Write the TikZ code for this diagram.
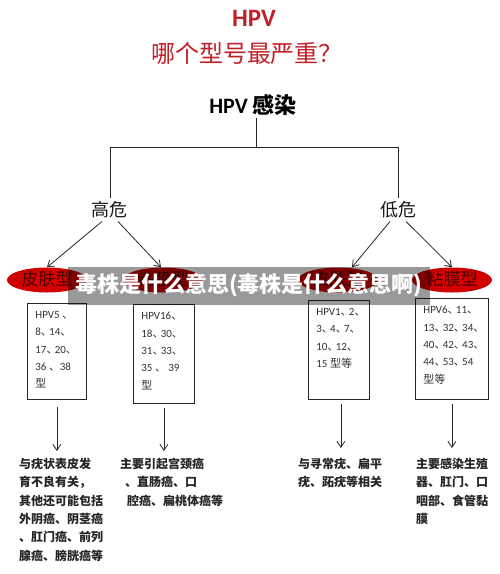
\documentclass[tikz,border=0pt]{standalone}
\usepackage{fontspec}
\setmainfont{Carlito}
\newfontfamily\cjk{Noto Sans CJK SC}
\usetikzlibrary{shapes.geometric,arrows.meta}
\definecolor{titlered}{RGB}{192,32,40}
\definecolor{ellred}{RGB}{228,0,0}
\definecolor{ellredout}{RGB}{205,0,0}
\definecolor{elltext}{RGB}{70,0,0}
\newcommand\dunhao{\makebox[0.75em][l]{\cjk 、}}
\tikzset{
  lnk/.style={line width=0.8pt, draw=black!85},
  arr/.style={lnk, -{Straight Barb[length=6pt,width=8pt]}},
  ell/.style={ellipse, shading=radial, inner color=ellred, outer color=ellredout,
     minimum width=80pt, minimum height=25pt, inner sep=0pt, text height=11pt, text depth=1pt,
     text=elltext, font=\fontsize{17}{17}\selectfont\cjk},
  typebox/.style={draw=black!85, line width=0.8pt, anchor=north west, inner xsep=8pt, inner ysep=8pt,
     font=\fontsize{11}{17.3}\selectfont, text=black!80},
  desc/.style={anchor=north west, inner sep=0pt, align=left,
     font=\fontsize{12}{18.3}\selectfont\cjk\bfseries, text=black!85},
  risk/.style={font=\fontsize{18}{18}\selectfont\cjk, text=black!90, inner sep=3pt}
}
\begin{document}
\begin{tikzpicture}[x=1pt,y=-1pt]
\useasboundingbox (0,0) rectangle (500,574);
\fill[white] (0,0) rectangle (500,574);

% titles
\node[text=titlered, font=\fontsize{25}{25}\selectfont\bfseries] (t0) at (254,18) {HPV};
\node[text=titlered, font=\fontsize{24}{24}\selectfont\cjk] (t00) at (247,53) {哪个型号最严重？};

\node[font=\fontsize{22}{22}\selectfont\bfseries, inner sep=2pt] (root) at (253,105) {HPV {\cjk 感染}};

\coordinate (j) at (256,147);
\node[risk] (hi) at (110,210) {高危};
\node[risk] (lo) at (398,210) {低危};

\draw[lnk] (root.south -| j) -- (j);
\draw[lnk] (hi.north) -- (hi.north |- j) -- (lo.north |- j) -- (lo.north);

% ellipses
\node[ell] (e1) at (47,280) {皮肤型};
\node[ell] (e2) at (163,280) {粘膜型};
\node[ell] (e3) at (338,280) {皮肤型};
\node[ell] (e4) at (452,280) {粘膜型};

\draw[arr] (hi.235) -- (e1.north);
\draw[arr] (hi.305) -- ([xshift=-2pt]e2.north);
\draw[arr] (lo.235) -- ([xshift=14pt]e3.north);
\draw[arr] (lo.305) -- (e4.north);

% type boxes
\node[typebox] (b1) at (27,303) {\parbox[c][80pt][t]{43pt}{HPV5 \dunhao\\8\dunhao 14\dunhao\\17\dunhao 20\dunhao\\36 \dunhao{} 38\\{\cjk 型}}};
\node[typebox] (b2) at (133,304) {\parbox[c][83pt][t]{45pt}{HPV16\dunhao\\18\dunhao 30\dunhao\\31\dunhao 33\dunhao\\35 \dunhao{} \ 39\\{\cjk 型}}};
\node[typebox] (b3) at (308,300) {\parbox[c][83pt][t]{45pt}{HPV1\dunhao 2\dunhao\\3\dunhao 4\dunhao 7\dunhao\\10\dunhao 12\dunhao\\15 {\cjk 型等}}};
\node[typebox] (b4) at (415,298) {\parbox[c][85pt][t]{57pt}{HPV6\dunhao 11\dunhao\\13\dunhao 32\dunhao 34\dunhao\\40\dunhao 42\dunhao 43\dunhao\\44\dunhao 53\dunhao 54\\{\cjk 型等}}};

% descriptions
\node[desc] (d1) at (19,458) {与疣状表皮发\\育不良有关，\\其他还可能包括\\外阴癌、阴茎癌\\、肛门癌、前列\\腺癌、膀胱癌等};
\node[desc] (d2) at (120,458) {主要引起宫颈癌\\\hspace*{5pt}、直肠癌、口\\\hspace*{7pt}腔癌、扁桃体癌等};
\node[desc] (d3) at (298,458) {与寻常疣、扁平\\疣、跖疣等相关};
\node[desc] (d4) at (416,458) {主要感染生殖\\器、肛门、口\\咽部、食管黏\\膜};

\draw[arr, shorten <=7pt, shorten >=7pt] (b1.south) -- (b1.south |- d1.north);
\draw[arr, shorten <=4pt, shorten >=7pt] (b2.south) -- (b2.south |- d2.north);
\draw[arr, shorten <=4pt, shorten >=10pt] ([xshift=2pt]b3.south) -- ([xshift=2pt]b3.south |- d3.north);
\draw[arr, shorten <=4pt, shorten >=10pt] (b4.south) -- (b4.south |- d4.north);

% overlay banner
\fill[black, opacity=0.4] (68,267) rectangle (430,305);
\node[text=white, font=\fontsize{22}{22}\selectfont\cjk\bfseries] (banner) at (249,285) {毒株是什么意思(毒株是什么意思啊)};
\end{tikzpicture}
\end{document}
